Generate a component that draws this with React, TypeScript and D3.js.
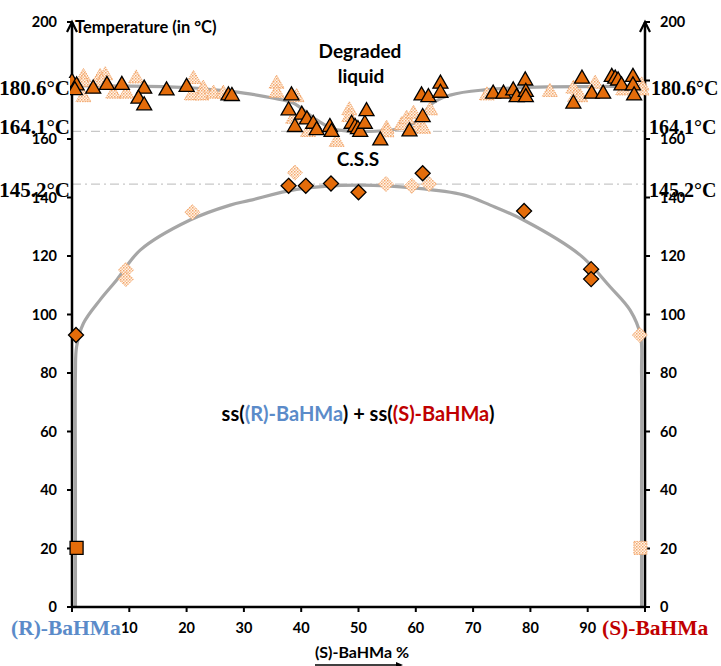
import React from "react";
import * as d3 from "d3";

// ---- data ----
const xTickValues = [0, 10, 20, 30, 40, 50, 60, 70, 80, 90, 100];
const xTickLabels = [10, 20, 30, 40, 50, 60, 70, 80, 90];
const yTickValues = [0, 20, 40, 60, 80, 100, 120, 140, 160, 180, 200];
const yTickLabels = [0, 20, 40, 60, 80, 100, 120, 140, 160, 200];

// liquidus (degradation) curve
const liquidusCurve: [number, number][] = [
  [0, 178.2], [10, 178.1], [20, 177.6], [26, 176.6], [31, 175.4], [35, 174], [38.6, 172.3],
  [42.7, 166.5], [46.2, 163.1], [50.3, 162.5], [55.5, 163], [60.2, 166], [62.5, 171.5],
  [66, 175], [72, 176.8], [83, 177.8], [100, 178.1],
];
// solidus curve
const solidusCurve: [number, number][] = [
  [0.6, 0], [0.6, 40], [0.6, 80], [0.8, 89], [2, 97], [4.9, 105], [7.8, 111.8], [11.9, 122],
  [20.6, 132.3], [27.6, 137.4], [31, 139], [39.2, 142.8], [50, 144.2], [60, 143.2],
  [68.3, 140.9], [73, 137.4], [78.8, 132.3], [88.7, 120.3], [93.9, 109.5], [97.4, 101.5],
  [99.2, 93], [99.4, 80], [99.4, 40], [99.4, 0],
];

const triFilled: [number, number][] = [
  [0, 180.2], [0.8, 179], [0.5, 177.4], [3.7, 177.9], [6.1, 179.2], [8.7, 179.2], [12.6, 177.9],
  [11.6, 174.5], [12.6, 172.2], [16.5, 177.3], [20, 178.5], [27.3, 175.6], [27.9, 175.4],
  [38.3, 175.6], [37.8, 170.5], [40.1, 169], [41, 167.4], [38.9, 164.8], [42.1, 165.9],
  [42.7, 163.7], [45, 164.8], [45.3, 163.1], [48.8, 165.9], [49.4, 164.8], [49.9, 164.1],
  [50.3, 163.1], [51.1, 165.9], [51.4, 170.2], [53.8, 160.2], [58.9, 163.3], [61.2, 168.2],
  [61, 175.6], [62.2, 175], [64.3, 179.6], [64.3, 176.5],
  [73.5, 176.2], [75.3, 176.2], [77, 177.3], [77.6, 175], [79.1, 180.7], [79.2, 176.8],
  [79.2, 175], [87.5, 172.8], [89, 181.3], [90.7, 176.2], [92.7, 176.2], [94.2, 181.9],
  [94.8, 181.3], [95.3, 180.7], [95.9, 179], [97.9, 181.9], [97.9, 179], [98.1, 175.6],
];
const triHatched: [number, number][] = [
  [2, 181.9], [2, 180.2], [2, 175], [4.9, 181.9], [5.8, 182.5], [5.2, 180.2], [7.2, 176.2],
  [9.5, 176.2], [11.2, 181.4], [21.2, 181.2], [20.9, 175.6], [22.9, 177.9], [22.6, 175.6],
  [24.7, 176.2], [26.4, 176.2],
  [35.7, 179.6], [35.7, 176.5], [39.2, 175], [38.6, 167.6], [41.2, 163.1], [46.2, 159.7],
  [48.4, 170.5], [48.4, 168.2], [54.9, 164.2], [54.9, 163], [57.5, 165.4], [58.4, 167.6],
  [59.6, 169.3], [60.4, 164.8], [62.5, 170.5], [61.3, 164.2],
  [72.4, 175.6], [83.4, 176.8], [87.5, 177.9], [87.8, 175], [88.7, 175], [91.3, 179.6],
  [96.2, 177.3], [99.4, 179], [99.4, 177.3],
];
const diaFilled: [number, number][] = [
  [0.7, 93], [37.8, 144], [40.8, 144], [45.2, 144.8], [50, 141.8], [61.2, 148.3],
  [78.9, 135.4], [90.6, 115.5], [90.6, 112.1],
];
const diaHatched: [number, number][] = [
  [9.4, 115.2], [9.4, 112.1], [21, 135], [38.9, 148.5], [54.8, 144.6], [59.3, 144],
  [62.3, 144.6], [99.1, 93],
];
const sqFilled: [number, number][] = [[0.8, 20.2]];
const sqHatched: [number, number][] = [[99.2, 20.2]];

const refLines = [
  { value: 162.6, label: "164.1°C", bottom: 134 },
  { value: 144.6, label: "145.2°C", bottom: 197 },
];
const topLabel = "180.6°C";

// ---- layout ----
const W = 721;
const H = 666;
const x = d3.scaleLinear().domain([0, 100]).range([72, 645]);
const y = d3.scaleLinear().domain([0, 200]).range([607, 22]);

const ORANGE = "#E46C0A";
const SANS = "Lato, 'Open Sans', sans-serif";
const SERIF = "'Liberation Serif', 'DejaVu Serif', serif";

const tri = (cx: number, cy: number, s = 15) => {
  const h = s * 0.87;
  return `M${cx},${cy - h / 2}L${cx + s / 2},${cy + h / 2}L${cx - s / 2},${cy + h / 2}Z`;
};
const dia = (cx: number, cy: number, r = 7.5) =>
  `M${cx},${cy - r}L${cx + r},${cy}L${cx},${cy + r}L${cx - r},${cy}Z`;
const sq = (cx: number, cy: number, r = 6.5) =>
  `M${cx - r},${cy - r}H${cx + r}V${cy + r}H${cx - r}Z`;

export default function App() {
  const liqLine = d3
    .line<[number, number]>()
    .x((d) => x(d[0]))
    .y((d) => y(d[1]))
    .curve(d3.curveMonotoneX)(liquidusCurve)!;
  const solLine = d3
    .line<[number, number]>()
    .x((d) => x(d[0]))
    .y((d) => y(d[1]))
    .curve(d3.curveCatmullRom.alpha(0.5))(solidusCurve)!;

  const filledStyle = { fill: ORANGE, stroke: "#000", strokeWidth: 1.3 };
  const hatchStyle = {
    fill: "url(#hatch)",
    stroke: "#F2A56A",
    strokeWidth: 1,
    strokeDasharray: "1.5,1",
  };

  const x0 = x(0);
  const x1 = x(100);
  const yb = y(0);
  const yt = y(200);

  return (
    <svg
      width={W}
      height={H}
      style={{ position: "absolute", left: 0, top: 0, background: "#fff" }}
    >
      <defs>
        <pattern id="hatch" width="3" height="3" patternUnits="userSpaceOnUse">
          <rect width="3" height="3" fill="#FFF4EA" />
          <rect width="1.5" height="1.5" fill="#F4A86C" />
          <rect x="1.5" y="1.5" width="1.5" height="1.5" fill="#F8C092" />
        </pattern>
      </defs>
      <rect width={W} height={H} fill="#fff" />

      {/* reference dash-dot lines */}
      {refLines.map((r) => (
        <line
          key={r.label}
          x1={x0}
          x2={x1}
          y1={y(r.value)}
          y2={y(r.value)}
          stroke="#C8C8C8"
          strokeWidth={1.3}
          strokeDasharray="9,4,2,4"
        />
      ))}

      {/* curves */}
      <path d={liqLine} fill="none" stroke="#A6A6A6" strokeWidth={3.2} />
      <path d={solLine} fill="none" stroke="#A6A6A6" strokeWidth={3.2} />

      {/* axes */}
      <line x1={x0} x2={x1} y1={yb} y2={yb} stroke="#000" strokeWidth={2.5} />
      <line x1={x0} x2={x0} y1={yb + 1} y2={yt} stroke="#000" strokeWidth={2.5} />
      <line x1={x1} x2={x1} y1={yb + 1} y2={yt} stroke="#000" strokeWidth={2.5} />
      {[x0, x1].map((ax) => (
        <path
          key={ax}
          d={`M${ax - 5},${yt + 10}L${ax},${yt}L${ax + 5},${yt + 10}`}
          fill="none"
          stroke="#000"
          strokeWidth={2.2}
        />
      ))}
      {xTickValues.map((v) => (
        <line key={v} x1={x(v)} x2={x(v)} y1={yb} y2={yb + 5} stroke="#000" strokeWidth={2} />
      ))}
      {yTickValues.map((v) => (
        <g key={v}>
          <line x1={x0 - 5} x2={x0} y1={y(v)} y2={y(v)} stroke="#000" strokeWidth={2} />
          <line x1={x1} x2={x1 + 5} y1={y(v)} y2={y(v)} stroke="#000" strokeWidth={2} />
        </g>
      ))}
      {yTickLabels.map((v) => (
        <g key={v} fontFamily={SANS} fontWeight="bold" fontSize={14.5} fill="#000">
          <text x={x0 - 15} y={y(v) + 5} textAnchor="end">{v}</text>
          <text x={x1 + 15} y={y(v) + 5} textAnchor="start">{v}</text>
        </g>
      ))}
      {xTickLabels.map((v) => (
        <text
          key={v}
          x={x(v)}
          y={633}
          textAnchor="middle"
          fontFamily={SANS}
          fontWeight="bold"
          fontSize={14.5}
        >
          {v}
        </text>
      ))}

      {/* markers */}
      {triHatched.map((d, i) => (
        <path key={"th" + i} d={tri(x(d[0]), y(d[1]))} {...hatchStyle} />
      ))}
      {diaHatched.map((d, i) => (
        <path key={"dh" + i} d={dia(x(d[0]), y(d[1]))} {...hatchStyle} />
      ))}
      {sqHatched.map((d, i) => (
        <path key={"sh" + i} d={sq(x(d[0]), y(d[1]))} {...hatchStyle} />
      ))}
      {triFilled.map((d, i) => (
        <path key={"tf" + i} d={tri(x(d[0]), y(d[1]))} {...filledStyle} />
      ))}
      {diaFilled.map((d, i) => (
        <path key={"df" + i} d={dia(x(d[0]), y(d[1]))} {...filledStyle} />
      ))}
      {sqFilled.map((d, i) => (
        <path key={"sf" + i} d={sq(x(d[0]), y(d[1]))} {...filledStyle} />
      ))}

      {/* temperature annotations */}
      <rect x={0} y={78} width={70} height={20} fill="#fff" />
      <text x={70} y={95} textAnchor="end" fontFamily={SERIF} fontWeight="bold" fontSize={21}>
        {topLabel}
      </text>
      <text x={651} y={95} textAnchor="start" fontFamily={SERIF} fontWeight="bold" fontSize={20}>
        {topLabel}
      </text>
      {refLines.map((r) => (
        <g key={"l" + r.label} fontFamily={SERIF} fontWeight="bold">
          <text x={70} y={r.bottom} textAnchor="end" fontSize={21}>{r.label}</text>
          <text x={649} y={r.bottom} textAnchor="start" fontSize={20}>{r.label}</text>
        </g>
      ))}

      {/* titles */}
      <text x={75} y={33} fontFamily={SANS} fontWeight="bold" fontSize={16.5}>
        Temperature (in °C)
      </text>
      <text x={362} y={658} textAnchor="middle" fontFamily={SANS} fontWeight="bold" fontSize={16}>
        (S)-BaHMa %
      </text>
      <line x1={315} x2={400} y1={665} y2={665} stroke="#000" strokeWidth={1.5} />
      <path d="M396,662L403,665L396,668Z" fill="#000" />

      <text x={11} y={635} fontFamily={SERIF} fontWeight="bold" fontSize={21.5} fill="#5B8BC9">
        (R)-BaHMa
      </text>
      <text x={602} y={635} fontFamily={SERIF} fontWeight="bold" fontSize={21.5} fill="#C00000">
        (S)-BaHMa
      </text>

      <g fontFamily={SANS} fontWeight="bold" fontSize={19} textAnchor="middle">
        <text x={360} y={58}>Degraded</text>
        <text x={361} y={83}>liquid</text>
        <text x={358} y={166}>C.S.S</text>
      </g>
      <text x={358} y={421} textAnchor="middle" fontFamily={SANS} fontWeight="bold" fontSize={20}>
        <tspan>ss(</tspan>
        <tspan fill="#5B8BC9">(R)-BaHMa</tspan>
        <tspan>) + ss(</tspan>
        <tspan fill="#C00000">(S)-BaHMa</tspan>
        <tspan>)</tspan>
      </text>
    </svg>
  );
}
